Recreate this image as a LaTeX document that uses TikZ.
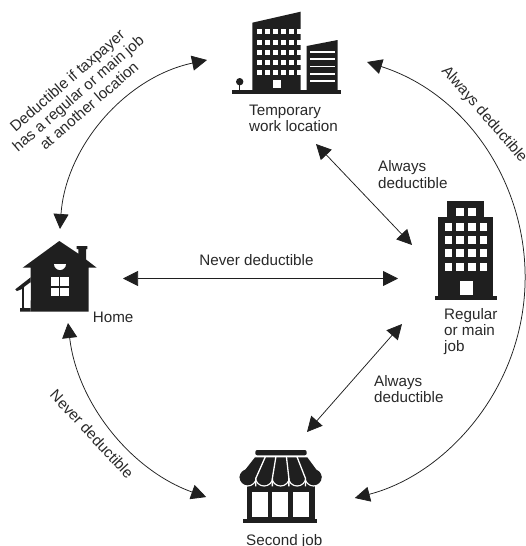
\documentclass[tikz,border=0pt]{standalone}
\usepackage{fontspec}
\setmainfont{Liberation Sans}
\usetikzlibrary{arrows.meta}
\definecolor{ink}{gray}{0.12}
\definecolor{txt}{gray}{0.16}
\tikzset{
  x=1pt,y=-1pt,
  both/.style={draw=ink,line width=0.75pt,{Triangle[width=15pt,length=15pt,fill=ink]}-{Triangle[width=15pt,length=15pt,fill=ink]}},
  lab/.style={inner sep=0pt,text=txt,font=\fontsize{15.2}{16.6}\selectfont,align=left},
  rlab/.style={inner sep=0pt,text=txt,font=\fontsize{15.2}{16.6}\selectfont,align=center},
  icon/.style={fill=ink,draw=none},
  hole/.style={fill=white,draw=none},
}
\begin{document}
\begin{tikzpicture}
\useasboundingbox (0,0) rectangle (526,546);
\fill[white] (0,0) rectangle (526,546);

% ---------- temporary work location
\fill[icon] (232,89.5) rectangle (341,93.5);
\fill[icon] (252.3,22.7) -- (300.7,11.7) -- (300.7,90) -- (252.3,90) -- cycle;
\foreach \cx in {257.3,265.2,273.1,281,288.9,296.8}{
  \foreach \ry in {29.3,40,50.3,60.3,70.2}{
    \fill[hole] (\cx-0.3,\ry) rectangle ++(4.9,4.9);
  }
}
\fill[hole] (273.3,80) rectangle (281,88.3);
\fill[icon] (306.7,46) -- (337.7,40) -- (337.7,90) -- (306.7,90) -- cycle;
\foreach \sy in {51.7,59,66.3,73.7,81}{
  \fill[hole] (310,\sy-0.8) rectangle (334.7,\sy+0.8);
}
\fill[icon] (239.7,81.7) circle (3.7);
\fill[icon] (239,81.7) rectangle (240.4,90);
\node[lab,anchor=base west] (temp1) at (249,115) {Temporary};
\node[lab,anchor=base west] (temp2) at (249,131.5) {work location};

% ---------- home
\fill[icon] (59.3,241) -- (22.7,267.7) -- (30.7,267.7) -- (30.7,311.7) -- (88.7,311.7) -- (88.7,267.7) -- (96.7,267.7) -- (86,259.5) -- (86,249) -- (87.3,249) -- (87.3,246) -- (76.7,246) -- (76.7,249) -- (78.3,249) -- (78.3,253.7) -- cycle;
\fill[hole] (54,264) arc[start angle=180,end angle=0,radius=6] -- cycle;
\fill[hole] (51.3,277) rectangle (59,286);
\fill[hole] (60,277) rectangle (68.7,286);
\fill[hole] (51.3,287.5) rectangle (59,296);
\fill[hole] (60,287.5) rectangle (68.7,296);
\fill[icon] (15.3,289.3) -- (30.7,277.3) -- (30.7,282) -- (24,287) -- (24,308) -- (30.7,308) -- (30.7,311.7) -- (20,311.7) -- (20,308) -- (22,308) -- (22,289) -- (17,291) -- cycle;
\fill[hole] (24,288) -- (30.7,283) -- (30.7,300) -- (28.5,302) -- (27,307) -- (24,307) -- cycle;
\node[lab,anchor=base west] (home) at (92.7,322.7) {Home};

% ---------- regular or main job
\fill[icon] (447.3,200.7) rectangle (484,220);
\fill[icon] (438,216.7) rectangle (493.3,298);
\fill[icon] (434.7,296) rectangle (496.7,300);
\foreach \cx in {456.3,468}{
  \fill[hole] (\cx,208.3) rectangle ++(7.5,8);
}
\foreach \cx in {444.7,456.3,468,479.7}{
  \foreach \ry in {222.7,235.7,249.3,262.7}{
    \fill[hole] (\cx,\ry) rectangle ++(7.5,8);
  }
}
\fill[hole] (460.3,280.7) rectangle (473.3,295.3);
\node[lab,anchor=base west] (reg1) at (444,319.3) {Regular};
\node[lab,anchor=base west] (reg2) at (444,335.3) {or main};
\node[lab,anchor=base west] (reg3) at (444,351.7) {job};

% ---------- second job
\fill[icon,rounded corners=2pt] (255.3,450) rectangle (306.7,455.3);
\fill[icon] (246.7,480) rectangle (315,520);
\foreach \k in {0,...,4}{
  \fill[hole] ({239.3+16.53*(\k+.5)},477.3) circle (9.3);
}
\fill[icon] (255,457.3) -- (307.3,457.3) -- (322,477.3) -- (239.3,477.3) -- cycle;
\foreach \k in {0,...,4}{
  \fill[icon] ({239.3+16.53*(\k+.5)},477.3) circle (8.0);
}
\fill[hole] (235,477) rectangle ({239.3},486);
\fill[hole] (322,477) rectangle (327,486);
\foreach \k in {1,...,4}{
  \draw[white,line width=1.3pt] ({255+10.47*\k},456.5) -- ({239.3+16.53*\k},478.3) -- ++(0,8);
}
\fill[icon] (243.3,519.3) rectangle (317.3,523);
\fill[hole] (251.7,492.3) rectangle (268.3,517.3);
\fill[hole] (272.3,492.3) rectangle (288.3,517.3);
\fill[hole] (292.7,492.3) rectangle (309,517.3);
\node[lab,anchor=base west] (second) at (246,545) {Second job};

% ---------- connector ends
\coordinate (tleft) at (207,60);
\coordinate (hup) at (60,229);
\coordinate (tright) at (367,62);
\coordinate (sright) at (355,498);
\coordinate (hdown) at (68,323);
\coordinate (sleft) at (206,497);
\coordinate (hright) at (123,278.5);
\coordinate (rleft) at (398,278.5);
\coordinate (tlow) at (316,144);
\coordinate (rtop) at (412,245);
\coordinate (rlow) at (402,324);
\coordinate (stop) at (307,432);

% ---------- connectors
\draw[both] (tleft) arc[start angle=258.05,end angle=184,radius=186];
\draw[both] (tright) arc[start angle=-72.3,end angle=75.5,radius=227];
\draw[both] (hdown) arc[start angle=173.5,end angle=109.6,radius=210];
\draw[both] (hright) -- (rleft);
\draw[both] (tlow) -- (rtop);
\draw[both] (rlow) -- (stop);

% ---------- labels
\node[rlab,anchor=base] (never) at (256.5,265) {Never deductible};
\node[lab,anchor=base west] (a1) at (378,171.7) {Always};
\node[lab,anchor=base west] (a2) at (378,188) {deductible};
\node[lab,anchor=base west] (b1) at (374,386.7) {Always};
\node[lab,anchor=base west] (b2) at (374,402.7) {deductible};
\node[rlab,rotate=-49] (always) at (484,114.5) {Always deductible};
\node[rlab,rotate=-47] (neverb) at (92,434) {Never deductible};
\node[rlab,rotate=41] (ded) at (78,93) {Deductible if taxpayer\\has a regular or main job\\at another location};
\end{tikzpicture}
\end{document}
